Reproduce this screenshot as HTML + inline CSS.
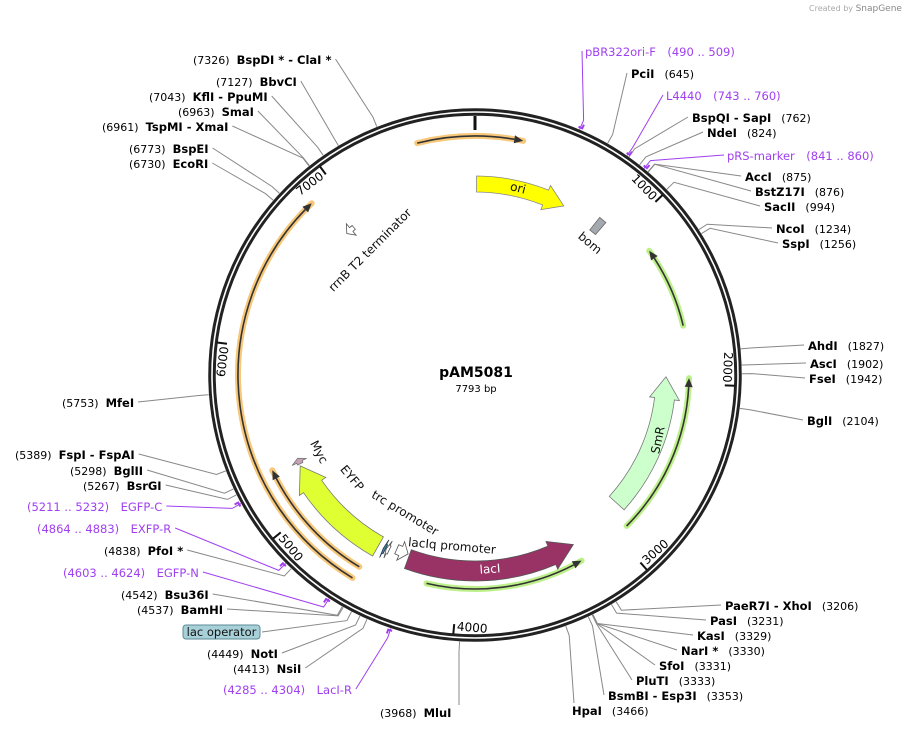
<!DOCTYPE html>
<html><head><meta charset="utf-8">
<style>
html,body{margin:0;padding:0;background:#fff;}
svg{display:block;font-family:"DejaVu Sans","Liberation Sans",sans-serif;}
.en{font-weight:bold;fill:#000;font-size:11.5px;}
.pos{fill:#000;font-size:11px;}
.pr{fill:#a040f0;font-size:11.5px;}
</style></head>
<body>
<svg id="map" width="907" height="731" viewBox="0 0 907 731" xmlns="http://www.w3.org/2000/svg">
<text x="809" y="11" font-size="8" fill="#aaa">Created by <tspan fill="#888" font-size="9">SnapGene</tspan></text>
<g id="leaders"></g>
<g id="ring"></g>
<g id="feats"></g>
<g id="labels"></g>
<text x="476" y="377" text-anchor="middle" font-weight="bold" font-size="14">pAM5081</text>
<text x="476" y="392" text-anchor="middle" font-size="10">7793 bp</text>
</svg>
<script>
const N = 7793;
const tickPositions = [1000,2000,3000,4000,5000,6000,7000];
const enzNames = ["BspDI * - ClaI *","BbvCI","KflI - PpuMI","SmaI","TspMI - XmaI","BspEI","EcoRI","PciI","BspQI - SapI","NdeI","AccI","BstZ17I","SacII","NcoI","SspI","AhdI","AscI","FseI","BglI","PaeR7I - XhoI","PasI","KasI","NarI *","SfoI","PluTI","BsmBI - Esp3I","HpaI","MluI","MfeI","FspI - FspAI","BglII","BsrGI","PfoI *","Bsu36I","BamHI","NotI","NsiI"];
const enzSites = [7326,7127,7043,6963,6961,6773,6730,645,762,824,875,876,994,1234,1256,1827,1902,1942,2104,3206,3231,3329,3330,3331,3333,3353,3466,3968,5753,5389,5298,5267,4838,4542,4537,4449,4413];
const enzLabelX = [193,216,149,178,102,129,129,631,692,707,745,755,764,776,782,808,810,809,807,725,710,697,681,659,636,608,572,380,62,15,70,83,104,121,137,207,233];
const enzLabelY = [60,82,97,112,127,149,164,74,118,133,177,192,207,229,244,346,364,379,421,606,621,636,651,666,681,696,711,713,403,455,471,486,551,595,610,654,669];
const enzSide = ["L","L","L","L","L","L","L","R","R","R","R","R","R","R","R","R","R","R","R","R","R","R","R","R","R","R","R","L","L","L","L","L","L","L","L","L","L"];
const primerNames = ["pBR322ori-F","L4440","pRS-marker","EGFP-C","EXFP-R","EGFP-N","LacI-R"];
const primerStart = [490,743,841,5211,4864,4603,4285];
const primerEnd = [509,760,860,5232,4883,4624,4304];
const primerLabelX = [585,666,727,27,37,63,223];
const primerLabelY = [52,96,156,507,529,573,690];
const primerSide = ["R","R","R","L","L","L","L"];

const CX=475, CY=375, R=263;
const NS="http://www.w3.org/2000/svg";
function pt(p,r){const a=p/N*2*Math.PI;return [CX+r*Math.sin(a),CY-r*Math.cos(a)];}
function mk(tag,attrs,parent){const e=document.createElementNS(NS,tag);for(const k in attrs)e.setAttribute(k,attrs[k]);parent.appendChild(e);return e;}
function f(v){return v.toFixed(1);}
function arcD(p1,p2,r,sweep){const b=pt(p2,r);const large=Math.abs(p2-p1)>N/2?1:0;return `A${r},${r} 0 ${large} ${sweep} ${f(b[0])},${f(b[1])}`;}

const ringG=document.getElementById('ring');
const ro=mk('circle',{cx:CX,cy:CY,r:R,fill:'none',stroke:'#222','stroke-width':7.5},ringG);


mk('circle',{cx:CX,cy:CY,r:R,fill:'none',stroke:'#fff','stroke-width':1.6},ringG);
const t0a=pt(0,R-4),t0b=pt(0,R-18);
const t0=mk('line',{x1:f(t0a[0]),y1:f(t0a[1]),x2:f(t0b[0]),y2:f(t0b[1]),stroke:'#111','stroke-width':3},ringG);


tickPositions.forEach(p=>{
  const a=pt(p,R-3),b=pt(p,R-13);
  const tk=mk('line',{x1:f(a[0]),y1:f(a[1]),x2:f(b[0]),y2:f(b[1]),stroke:'#111','stroke-width':2},ringG);
  
  
  const deg=p/N*360;
  const flip=deg>120&&deg<240;
  const c=pt(p,R-9);
  const rot=flip?deg-180:(deg>180?deg-360:deg);
  const t=mk('text',{x:0,y:0,'font-size':12,'text-anchor':flip?'start':'end','dominant-baseline':'central',
    transform:`translate(${f(c[0])},${f(c[1])}) rotate(${f(rot)}) translate(${flip?3:-3},${flip?-2:2})`},ringG);
  t.textContent=p;
  
  
});

const LG=document.getElementById('leaders'), LB=document.getElementById('labels');
function leader(site,ex,ey,color,grp){
  const a=pt(site,R+4),b=pt(site,R+14);
  return mk('polyline',{points:`${f(a[0])},${f(a[1])} ${f(b[0])},${f(b[1])} ${f(ex)},${f(ey)}`,fill:'none',stroke:color,'stroke-width':1},grp);
}
enzNames.forEach((nm,i)=>{
  const x=enzLabelX[i], y=enzLabelY[i];
  const t=mk('text',{x:x,y:y+4},LB);
  
  
  if(enzSide[i]==='R'){
    t.innerHTML=`<tspan class="en">${nm}</tspan><tspan class="pos" dx="10">(${enzSites[i]})</tspan>`;
  } else {
    t.innerHTML=`<tspan class="pos">(${enzSites[i]})</tspan><tspan class="en" dx="7">${nm}</tspan>`;
  }
  const bb=t.getBBox();
  let ex,ey;
  if(nm==="MluI"){ex=pt(enzSites[i],R+14)[0];ey=y-8;}
  else if(nm==="HpaI"){ex=x+2;ey=y-8;}
  else if(enzSide[i]==='R'){ex=x-4;ey=y-1;}
  else {ex=bb.x+bb.width+4;ey=y-1;}
  const l=leader(enzSites[i],ex,ey,'#888',LG);
  
  
});
primerNames.forEach((nm,i)=>{
  const x=primerLabelX[i], y=primerLabelY[i];
  const t=mk('text',{x:x,y:y+4,class:'pr'},LB);
  t.textContent = primerSide[i]==='R' ? `${nm}\u2003(${primerStart[i]} .. ${primerEnd[i]})` : `(${primerStart[i]} .. ${primerEnd[i]})\u2003${nm}`;
  
  
  const bb=t.getBBox();
  const ex=primerSide[i]==='R'?x-3:bb.x+bb.width+4;
  const l=leader((primerStart[i]+primerEnd[i])/2,ex,y-1,'#a040f0',LG);
  
  
  const a=pt(primerStart[i],R+6),b=pt(primerEnd[i],R+6),c=pt(primerEnd[i],R+10);
  const m=mk('path',{d:`M${f(a[0])},${f(a[1])} L${f(b[0])},${f(b[1])} L${f(c[0])},${f(c[1])}`,fill:'none',stroke:'#a040f0','stroke-width':2},LG);
  
  
});

const FG=document.getElementById('feats');
function thickArrow(p1,p2,r,w,dir,head,fill,stroke,name){
  const hl=head/(2*Math.PI*r)*N;
  let d;
  if(dir==='cw'){
    const hb=p2-hl;
    const a=pt(p1,r+w/2),b=pt(hb,r+w/2+5),tip=pt(p2,r),c=pt(hb,r-w/2-5),e=pt(hb,r-w/2);
    d=`M${f(a[0])},${f(a[1])} ${arcD(p1,hb,r+w/2,1)} L${f(b[0])},${f(b[1])} L${f(tip[0])},${f(tip[1])} L${f(c[0])},${f(c[1])} L${f(e[0])},${f(e[1])} ${arcD(hb,p1,r-w/2,0)} Z`;
  } else {
    const hb=p1+hl;
    const a=pt(p2,r+w/2),b=pt(hb,r+w/2+5),tip=pt(p1,r),c=pt(hb,r-w/2-5),e=pt(hb,r-w/2);
    d=`M${f(a[0])},${f(a[1])} ${arcD(p2,hb,r+w/2,0)} L${f(b[0])},${f(b[1])} L${f(tip[0])},${f(tip[1])} L${f(c[0])},${f(c[1])} L${f(e[0])},${f(e[1])} ${arcD(hb,p2,r-w/2,1)} Z`;
  }
  const el=mk('path',{d:d,fill:fill,stroke:stroke,'stroke-width':0.8},FG);
  
  
  return el;
}
function thinArrow(p1,p2,r,dir,halo,name){
  const hl=9/(2*Math.PI*r)*N;
  const s=dir==='cw'?p1:p1+hl, e=dir==='cw'?p2-hl:p2;
  const a=pt(p1,r);
  const g=mk('g',{},FG);
  
  
  mk('path',{d:`M${f(a[0])},${f(a[1])} ${arcD(p1,p2,r,1)}`,fill:'none',stroke:halo,'stroke-width':6,'stroke-linecap':'round'},g);
  const sa=pt(s,r);
  mk('path',{d:`M${f(sa[0])},${f(sa[1])} ${arcD(s,e,r,1)}`,fill:'none',stroke:'#333','stroke-width':1.6},g);
  const tipP=dir==='cw'?p2:p1, hb=dir==='cw'?p2-hl:p1+hl;
  const t=pt(tipP,r),u=pt(hb,r+4),v=pt(hb,r-4);
  mk('path',{d:`M${f(t[0])},${f(t[1])} L${f(u[0])},${f(u[1])} L${f(v[0])},${f(v[1])} Z`,fill:'#333'},g);
}
thinArrow(7490,252+N,239,'cw','#f7c77a','orange-arc-top');
thinArrow(4570,6850,237,'cw','#f7c77a','orange-arc-left-outer');
thinArrow(4570,5300,224,'cw','#f7c77a','orange-arc-left-inner');
thinArrow(1180,1660,214,'ccw','#bdf08a','green-arc-1');
thinArrow(1966,2920,214,'ccw','#bdf08a','green-arc-2');
thinArrow(3250,4180,214,'ccw','#bdf08a','green-arc-3');

thickArrow(10,600,191,16,'cw',20,'#ffff00','#888','ori-feature');
thickArrow(1960,2860,191,20,'ccw',22,'#ccffcc','#777','smr-feature');
thickArrow(3245,4330,196,20,'ccw',24,'#993366','#555','laci-feature');
thickArrow(4535,5250,197,22,'cw',24,'#e0ff33','#777','eyfp-feature');
thickArrow(4340,4420,191,10,'ccw',8,'#fff','#555','laciq-promoter-feature');
thickArrow(6880,6940,191,5,'ccw',6,'#fff','#555','rrnb-terminator-feature');
thickArrow(5262,5300,196,6,'cw',4,'#c8a0b8','#777','myc-feature');
thickArrow(4462,4482,195,9,'cw',2,'#fff','#555','trc-promoter-feature');
thickArrow(4486,4500,196,10,'cw',1,'#3a8a96','#235','lac-operator-feature');
(function(){
  const a=pt(830,201),b=pt(880,201),c=pt(880,185),d=pt(830,185);
  const el=mk('path',{d:`M${f(a[0])},${f(a[1])} L${f(b[0])},${f(b[1])} L${f(c[0])},${f(c[1])} L${f(d[0])},${f(d[1])} Z`,fill:'#a4a9b0',stroke:'#666','stroke-width':0.8},FG);
  
  
})();
function flab(txt,x,y,rot,name,fill){
  const t=mk('text',{x:0,y:0,'font-size':12,'text-anchor':'middle','dominant-baseline':'central',fill:fill||'#111',transform:`translate(${x},${y}) rotate(${rot})`},FG);
  t.textContent=txt;
  
  
}
flab('ori',518,188,14,'ori-label');
flab('bom',590,243,40,'bom-label');
flab('SmR',658,440,-78,'smr-label');
flab('lacI',490,569,-4,'laci-label','#fff');
flab('EYFP',352,478,50,'eyfp-label');
flab('Myc',319,452,62,'myc-label');
flab('trc promoter',405,513,31,'trc-promoter-label');
flab('lacIq promoter',452,546,5,'laciq-promoter-label');
flab('rrnB T2 terminator',370,250,-45,'rrnb-terminator-label');
(function(){
  const g=mk('g',{},LB);
  
  
  mk('rect',{x:183,y:625,width:77,height:14,rx:3,fill:'#a8d0d8',stroke:'#5a8a96','stroke-width':1},g);
  const t=mk('text',{x:221.5,y:636,'text-anchor':'middle','font-size':11.5,fill:'#111'},g);
  t.textContent='lac operator';
  const a=pt(4493,R+4),b=pt(4493,R+14);
  mk('polyline',{points:`${f(a[0])},${f(a[1])} ${f(b[0])},${f(b[1])} 262,632`,fill:'none',stroke:'#888','stroke-width':1},LG);
})();
</script>
</body></html>
